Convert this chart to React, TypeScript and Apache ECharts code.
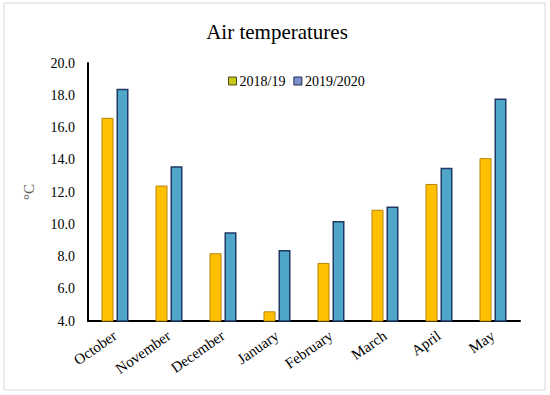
import React, { useEffect, useRef } from "react";
import * as echarts from "echarts";

const categories = ["October", "November", "December", "January", "February", "March", "April", "May"];
const series1819 = [16.6, 12.4, 8.2, 4.6, 7.6, 10.9, 12.5, 14.1];
const series1920 = [18.4, 13.6, 9.5, 8.4, 10.2, 11.1, 13.5, 17.8];
const seriesNames = ["2018/19", "2019/2020"];
const titleText = "Air temperatures";
const yName = "°C";

const FONT = "'Liberation Serif', 'Times New Roman', serif";

export default function App() {
  const ref = useRef<HTMLDivElement>(null);
  useEffect(() => {
    if (!ref.current) return;
    const chart = echarts.init(ref.current, undefined, { renderer: "svg" });
    chart.setOption({
      animation: false,
      backgroundColor: "#ffffff",
      textStyle: { fontFamily: FONT },
      title: {
        text: titleText,
        left: 272,
        textAlign: "center",
        top: 16,
        textStyle: { fontFamily: FONT, fontSize: 21, fontWeight: "normal", color: "#000" },
      },
      legend: {
        top: 69,
        left: 223,
        itemWidth: 8,
        itemHeight: 8,
        itemGap: 8,
        icon: "rect",
        textStyle: { fontFamily: FONT, fontSize: 14, color: "#000", padding: [0, 0, 0, -2] },
        data: [
          { name: seriesNames[0], itemStyle: { color: "#C8C818", borderColor: "#4a4a20", borderWidth: 1 } },
          { name: seriesNames[1], itemStyle: { color: "#8090CC", borderColor: "#1F2A50", borderWidth: 1 } },
        ],
      },
      graphic: [
        {
          type: "rect",
          shape: { x: 4, y: 3, width: 541, height: 387 },
          style: { fill: "none", stroke: "#D9D9D9", lineWidth: 1 },
          silent: true,
        },
      ],
      grid: { left: 88, top: 63, right: 30, bottom: 74 },
      xAxis: {
        type: "category",
        data: categories,
        axisLine: { lineStyle: { color: "#000", width: 2 } },
        axisTick: { show: false },
        axisLabel: {
          rotate: 35,
          margin: 13,
          interval: 0,
          fontFamily: FONT,
          fontSize: 15,
          color: "#000",
        },
      },
      yAxis: {
        type: "value",
        min: 4,
        max: 20,
        interval: 2,
        name: yName,
        nameLocation: "middle",
        nameGap: 52,
        nameRotate: 90,
        nameTextStyle: { fontFamily: FONT, fontSize: 15, color: "#595959" },
        axisLine: { show: true, lineStyle: { color: "#000", width: 2 } },
        axisTick: { show: false },
        splitLine: { show: false },
        axisLabel: {
          margin: 13,
          fontFamily: FONT,
          fontSize: 14,
          color: "#000",
          formatter: (v: number) => v.toFixed(1),
        },
      },
      series: [
        {
          name: seriesNames[0],
          type: "bar",
          data: series1819,
          barWidth: 12,
          barGap: "25%",
          itemStyle: { color: "#FFC000", borderColor: "#B8860B", borderWidth: 1 },
        },
        {
          name: seriesNames[1],
          type: "bar",
          data: series1920,
          barWidth: 12,
          barGap: "25%",
          itemStyle: { color: "#4FA6C8", borderColor: "#1F3864", borderWidth: 1.5 },
        },
      ],
    });
    return () => chart.dispose();
  }, []);
  return (
    <div
      ref={ref}
      style={{ position: "fixed", left: 0, top: 0, width: 550, height: 395 }}
    />
  );
}
